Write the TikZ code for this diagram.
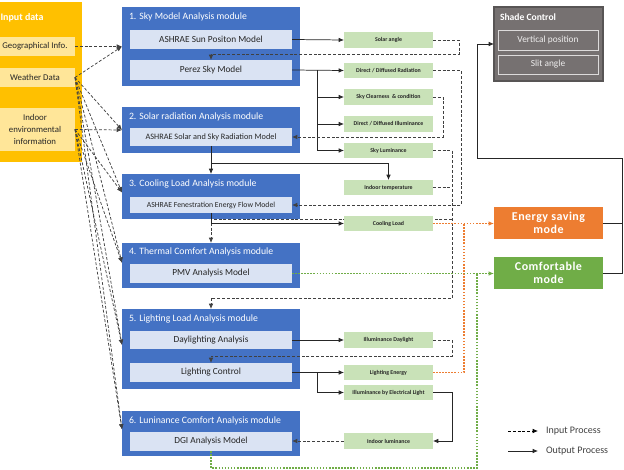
\documentclass[tikz,border=0pt]{standalone}
\usepackage{fontspec}
\setmainfont{Carlito}
\newfontfamily\modefont[LetterSpace=4]{Carlito}
\usetikzlibrary{arrows.meta}
\definecolor{inyel}{HTML}{FFC000}
\definecolor{inlt}{HTML}{FFE699}
\definecolor{modblue}{HTML}{4472C4}
\definecolor{modlt}{HTML}{DAE3F3}
\definecolor{outgr}{HTML}{C9E2B8}
\definecolor{shgr}{HTML}{767171}
\definecolor{esor}{HTML}{ED7D31}
\definecolor{cmgr}{HTML}{70AD47}
\definecolor{lnk}{HTML}{404040}
\definecolor{txtc}{HTML}{262626}
\newcommand{\pu}{0.75pt}
\tikzset{
  every node/.style={inner sep=0pt, outer sep=0pt},
  wh/.style 2 args={minimum width=#1*\pu, minimum height=#2*\pu},
  modbox/.style={fill=modblue},
  modin/.style={fill=modlt, text=txtc, font=\fontsize{7}{8}\selectfont},
  modtitle/.style={anchor=west, text=white, font=\fontsize{7.3}{8}\selectfont},
  outbox/.style={fill=outgr, text=txtc, font=\fontsize{4.4}{5}\selectfont\bfseries},
  inbox/.style={fill=inlt, text=txtc, font=\fontsize{6.6}{9.2}\selectfont},
  shin/.style={draw=white!75!shgr, line width=0.6pt, text=white!88!shgr, font=\fontsize{7}{8}\selectfont},
  modebox/.style={text=white, align=center, font=\modefont\bfseries\fontsize{9}{9.8}\selectfont},
  arr/.style={-{Latex[length=4pt,width=3.4pt]}},
  inp/.style={draw=lnk, line width=0.55pt, dash pattern=on 2.2pt off 1.4pt},
  outp/.style={draw=black!85, line width=0.55pt},
  odot/.style={draw=esor, line width=1.4pt, dash pattern=on 1.2pt off 1.1pt},
  gdot/.style={draw=cmgr, line width=1.4pt, dash pattern=on 1.2pt off 1.1pt},
  legtxt/.style={anchor=west, text=lnk, font=\fontsize{7.5}{9}\selectfont}
}
\begin{document}
\begin{tikzpicture}[x=0.75pt,y=-0.75pt]
\useasboundingbox (0,0) rectangle (624,470);
% ---------- input data ----------
\node[fill=inyel, wh={87}{160}] (inbg) at (38.5,82) {};
\node[anchor=west, text=white, font=\fontsize{7.5}{9}\selectfont\bfseries] (inpt) at (0.5,18) {Input data};
\node[inbox, wh={80}{19}] (geo) at (35,46.5) {Geographical Info.};
\node[inbox, wh={80}{19}] (wd) at (35,77.5) {Weather Data};
\node[inbox, wh={80}{43}, align=center] (ind) at (35,129.5) {Indoor\\environmental\\information};
% ---------- modules ----------
\node[modbox, wh={178}{79}] (m1) at (211,46.5) {};
\node[modtitle] (m1t) at (129,17) {1. Sky Model Analysis module};
\node[modin, wh={162}{19}] (sun) at (211,39.5) {ASHRAE Sun Positon Model};
\node[modin, wh={162}{20}] (perez) at (211,70) {Perez Sky Model};

\node[modbox, wh={178}{46}] (m2) at (211,130) {};
\node[modtitle] (m2t) at (129,117) {2. Solar radiation Analysis module};
\node[modin, wh={162}{18}, font=\fontsize{6.2}{7}\selectfont] (srad) at (211,137) {ASHRAE Solar and Sky Radiation Model};

\node[modbox, wh={178}{45}] (m3) at (211,196.5) {};
\node[modtitle] (m3t) at (129,184) {3. Cooling Load Analysis module};
\node[modin, wh={162}{16}, font=\fontsize{5.8}{7}\selectfont] (fen) at (211,205) {ASHRAE Fenestration Energy Flow Model};

\node[modbox, wh={178}{45}] (m4) at (211,265.5) {};
\node[modtitle] (m4t) at (129,252) {4. Thermal Comfort Analysis module};
\node[modin, wh={162}{19}] (pmv) at (211,273.5) {PMV Analysis Model};

\node[modbox, wh={178}{80}] (m5) at (211,349) {};
\node[modtitle] (m5t) at (129,319) {5. Lighting Load Analysis module};
\node[modin, wh={162}{18}] (day) at (211,340) {Daylighting Analysis};
\node[modin, wh={162}{19}] (lc) at (211,372.5) {Lighting Control};

\node[modbox, wh={178}{45}] (m6) at (211,433.5) {};
\node[modtitle] (m6t) at (129,421) {6. Luninance Comfort Analysis module};
\node[modin, wh={162}{19}] (dgi) at (211,441.5) {DGI Analysis Model};

% dashed line passing behind the Cooling Load box
\coordinate (c219) at (452,219);
\draw[inp,arr] (c219) -| (m4.north);

% ---------- outputs ----------
\node[outbox, wh={89}{16}] (sang) at (388.5,40) {Solar angle};
\node[outbox, wh={89}{15}] (ddrad) at (388.5,70.5) {Direct / Diffused Radiation};
\node[outbox, wh={89}{16}] (sclr) at (388.5,97) {Sky Clearness \ \& condition};
\node[outbox, wh={89}{16}] (ddill) at (388.5,124) {Direct / Diffused Illuminance};
\node[outbox, wh={89}{15}] (slum) at (388.5,150.5) {Sky Luminance};
\node[outbox, wh={89}{15}] (itmp) at (388.5,187.5) {Indoor temperature};
\node[outbox, wh={89}{15}] (cool) at (388.5,223.5) {Cooling Load};
\node[outbox, wh={89}{16}] (iday) at (388.5,340) {Illuminance Daylight};
\node[outbox, wh={89}{15}] (lene) at (388.5,372.5) {Lighting Energy};
\node[outbox, wh={89}{15}] (ielec) at (388.5,392.5) {Illuminance by Electrical Light};
\node[outbox, wh={89}{16}] (ilum) at (388.5,441) {Indoor luminance};

% ---------- shade control ----------
\node[fill=shgr, draw=shgr!75!black, line width=0.8pt, wh={109}{74}] (sc) at (548.5,44) {};
\node[anchor=west, text=white, font=\fontsize{7.2}{8}\selectfont\bfseries] (sct) at (500,17) {Shade Control};
\node[shin, wh={100}{20}] (vp) at (548,40) {Vertical position};
\node[shin, wh={100}{19}] (sa) at (548,64.5) {Slit angle};

% ---------- modes ----------
\node[modebox, fill=esor, wh={109}{32}] (es) at (548.5,223) {Energy saving\\mode};
\node[modebox, fill=cmgr, wh={109}{32}] (cm) at (548.5,273) {Comfortable\\mode};

% ---------- input fan ----------
\draw[inp,arr] (geo.east) -- (m1.west);
\draw[inp,arr] (wd.east) -- (m1.west);
\draw[inp,arr] (wd.east) -- (m2.west);
\draw[inp,arr] (ind.east) -- (m2.west);
\draw[inp,arr] (wd.east) -- ([yshift=3pt]m3.west);
\draw[inp,arr] (ind.east) -- ([yshift=3pt]m3.west);
\draw[inp,arr] (wd.east) -- ([yshift=2pt]m4.west);
\draw[inp,arr] (ind.east) -- ([yshift=2pt]m4.west);
\draw[inp,arr] (wd.east) -- ([yshift=3pt]m5.west);
\draw[inp,arr] (ind.east) -- ([yshift=3pt]m5.west);
\draw[inp,arr] (wd.east) -- ([yshift=3pt]m6.west);
\draw[inp,arr] (ind.east) -- ([yshift=3pt]m6.west);

% ---------- output process (solid) ----------
\draw[outp,arr] (sun.east) -- (sang.west);
\draw[outp,arr] (perez.east) -- (ddrad.west);
\coordinate (t1) at (317,70.5);
\draw[outp,arr] (t1) |- (sclr.west);
\draw[outp,arr] (t1) |- (ddill.west);
\draw[outp,arr] (t1) |- (slum.west);
\draw[outp,arr] (srad.south) -- (srad.south |- m3.north);
\coordinate (b2) at (211,163);
\draw[outp,arr] (b2) -| (itmp.north);
\draw[outp,arr] (fen.south) |- (cool.west);
\draw[outp,arr] (day.east) -- (iday.west);
\draw[outp,arr] (lc.east) -- (lene.west);
\coordinate (t2) at (317,372.5);
\draw[outp,arr] (t2) |- (ielec.west);
\coordinate (c5) at (452,441);
\draw[outp,arr] (ielec.east) -| (c5) -- (ilum.east);

% ---------- input process (dashed) ----------
\coordinate (c1) at (459,54);
\draw[inp,arr] (sang.east) -| (c1) -| (perez.north);
\coordinate (c2) at (461,205);
\draw[inp,arr] (ddrad.east) -| (c2) -- (fen.east);
\coordinate (c3) at (443,137);
\draw[inp,arr] (sclr.east) -| (c3) -- (srad.east);
\coordinate (c4) at (452,298);
\draw[inp,arr] (slum.east) -| (c4) -| (m5.north);
\draw[inp] (itmp.east) -- (itmp.east -| c4);
\coordinate (c7) at (452,356);
\draw[inp,arr] (iday.east) -| (c7) -| (lc.north);
\draw[inp,arr] (ilum.west) -- (ilum.west -| dgi.east);

% ---------- modes connections ----------
\coordinate (c6) at (464,223.5);
\draw[odot,arr] (cool.east) -- (cool.east -| es.west);
\draw[odot] (lene.east) -| (c6);
\coordinate (c8) at (477,468);
\draw[gdot,arr] (pmv.east) -- (pmv.east -| cm.west);
\draw[gdot] (dgi.south) |- (c8) -- (c8 |- pmv.east);
\coordinate (j1) at (622,158);
\coordinate (j2) at (477,158);
\draw[outp] (es.east) -- (es.east -| j1);
\draw[outp,arr] (cm.east) -| (j1) -- (j2) |- (sc.west);

% ---------- legend ----------
\coordinate (lg1) at (508,431);
\coordinate (lg2) at (538,431);
\coordinate (lg3) at (508,451);
\coordinate (lg4) at (538,451);
\draw[inp,arr,draw=black] (lg1) -- (lg2);
\draw[outp,arr] (lg3) -- (lg4);
\node[legtxt] (lgt1) at (546,431) {Input Process};
\node[legtxt] (lgt2) at (546,451) {Output Process};
\end{tikzpicture}
\end{document}
